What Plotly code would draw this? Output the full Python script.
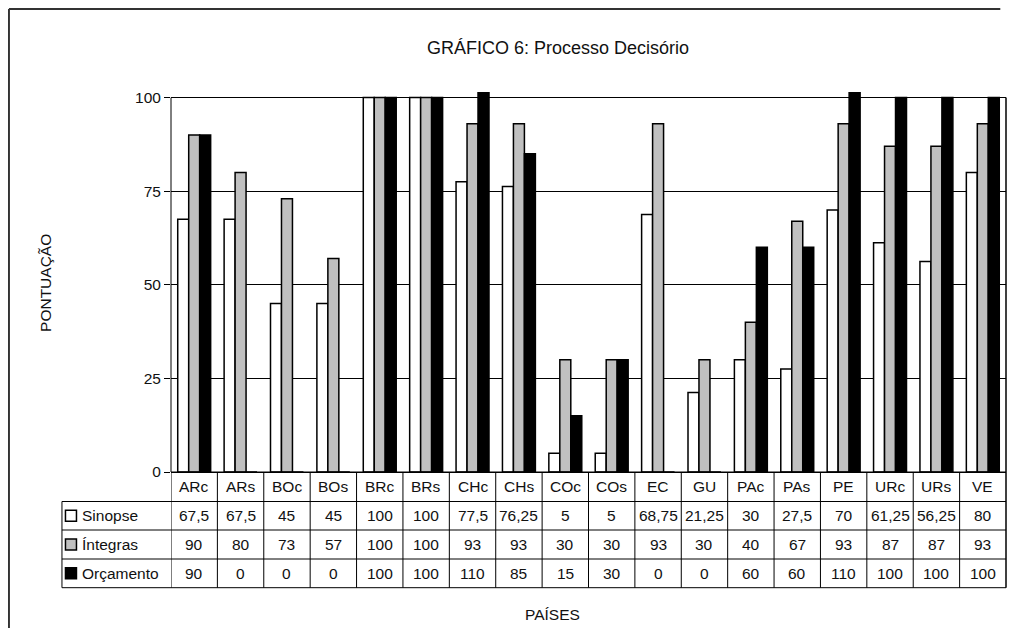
import plotly.graph_objects as go

# ---- data ----
categories = ["ARc", "ARs", "BOc", "BOs", "BRc", "BRs", "CHc", "CHs", "COc", "COs",
              "EC", "GU", "PAc", "PAs", "PE", "URc", "URs", "VE"]
sinopse = [67.5, 67.5, 45, 45, 100, 100, 77.5, 76.25, 5, 5, 68.75, 21.25, 30, 27.5, 70, 61.25, 56.25, 80]
integras = [90, 80, 73, 57, 100, 100, 93, 93, 30, 30, 93, 30, 40, 67, 93, 87, 87, 93]
orcamento = [90, 0, 0, 0, 100, 100, 110, 85, 15, 30, 0, 0, 60, 60, 110, 100, 100, 100]
series_names = ["Sinopse", "Íntegras", "Orçamento"]
y_ticks = [0, 25, 50, 75, 100]

title_text = "GRÁFICO 6: Processo Decisório"
y_title = "PONTUAÇÃO"
x_title = "PAÍSES"

# ---- layout constants (reference pixel positions, page has an 8px body margin) ----
OFF = 8
W, H = 1000, 622
PLOT_L, PLOT_R, PLOT_T, PLOT_B = 171, 1005.7, 92, 472   # in page pixels
ML = PLOT_L - OFF
MT = PLOT_T - OFF
MR = W - (PLOT_R - OFF)
MB = H - (PLOT_B - OFF)
PW, PH = W - ML - MR, H - MT - MB
Y_TOP = 101.5
FONT = "Liberation Sans, Arial, sans-serif"
FS = 15.5
TXT = "#111111"
colors = ["#ffffff", "#c0c0c0", "#000000"]

def px_x(px):
    return (px - PLOT_L) / PW

def px_y(py):
    return (PLOT_B - py) / PH

def fmt(v):
    return ("%g" % v).replace(".", ",")

fig = go.Figure()
for name, vals, col in zip(series_names, [sinopse, integras, orcamento], colors):
    fig.add_trace(go.Bar(
        x=categories, y=vals, name=name,
        marker=dict(color=col, line=dict(color="#000000", width=1.5)),
        showlegend=False, hoverinfo="x+y+name",
    ))

shapes = []
annotations = []

# table geometry (pixel rows)
row_edges = [472, 501.5, 530, 559, 587.7]
table_left = 62
n = len(categories)
y100 = px_y(PLOT_B - 100 * PH / Y_TOP)

# y axis line (0..100)
shapes.append(dict(type="line", xref="paper", yref="paper", x0=0, x1=0, y0=0, y1=y100,
                   line=dict(color="#000", width=1)))
# right edge of plot area and table
shapes.append(dict(type="line", xref="paper", yref="paper", x0=1, x1=1,
                   y0=px_y(row_edges[-1]), y1=y100,
                   line=dict(color="#000", width=1.5)))

for i, py in enumerate(row_edges):
    x0 = px_x(table_left) if i >= 1 else 0
    shapes.append(dict(type="line", xref="paper", yref="paper",
                       x0=x0, x1=1, y0=px_y(py), y1=px_y(py),
                       line=dict(color="#000", width=1)))
for i in range(n):
    shapes.append(dict(type="line", xref="x", yref="paper",
                       x0=i - 0.5, x1=i - 0.5, y0=px_y(row_edges[0]), y1=px_y(row_edges[-1]),
                       line=dict(color="#000", width=1)))
shapes.append(dict(type="line", xref="paper", yref="paper",
                   x0=px_x(table_left), x1=px_x(table_left),
                   y0=px_y(row_edges[1]), y1=px_y(row_edges[-1]),
                   line=dict(color="#000", width=1)))

hdr_y = px_y((row_edges[0] + row_edges[1]) / 2)
for c in categories:
    annotations.append(dict(x=c, y=hdr_y, xref="x", yref="paper", text=c, showarrow=False,
                            font=dict(family=FONT, size=FS, color=TXT),
                            xanchor="center", yanchor="middle"))

for r, (name, vals, col) in enumerate(zip(series_names, [sinopse, integras, orcamento], colors)):
    top, bot = row_edges[r + 1], row_edges[r + 2]
    mid = (top + bot) / 2
    cy = px_y(mid)
    shapes.append(dict(type="rect", xref="paper", yref="paper",
                       x0=px_x(65.5), x1=px_x(76.5),
                       y0=px_y(mid + 5.5), y1=px_y(mid - 5.5),
                       fillcolor=col, line=dict(color="#000", width=1.5)))
    annotations.append(dict(x=px_x(80), y=cy, xref="paper", yref="paper", text=name,
                            showarrow=False, xanchor="left", yanchor="middle",
                            font=dict(family=FONT, size=FS, color=TXT)))
    for c, v in zip(categories, vals):
        annotations.append(dict(x=c, y=cy, xref="x", yref="paper", text=fmt(v),
                                showarrow=False, xanchor="center", yanchor="middle",
                                font=dict(family=FONT, size=FS, color=TXT)))

# outer chart border: left and top edges only
shapes.append(dict(type="line", xref="paper", yref="paper",
                   x0=px_x(OFF + 1), x1=px_x(OFF + 1), y0=px_y(OFF + 1), y1=px_y(OFF + H - 2),
                   line=dict(color="#333", width=2)))
shapes.append(dict(type="line", xref="paper", yref="paper",
                   x0=px_x(OFF + 1), x1=px_x(1000), y0=px_y(OFF + 1), y1=px_y(OFF + 1),
                   line=dict(color="#333", width=2)))

annotations.append(dict(x=px_x(558), y=px_y(48), xref="paper", yref="paper", text=title_text,
                        showarrow=False, xanchor="center", yanchor="middle",
                        font=dict(family=FONT, size=18, color=TXT)))
annotations.append(dict(x=px_x(45), y=px_y(283), xref="paper", yref="paper", text=y_title,
                        showarrow=False, textangle=-90, xanchor="center", yanchor="middle",
                        font=dict(family=FONT, size=FS, color=TXT)))
annotations.append(dict(x=px_x(552), y=px_y(614), xref="paper", yref="paper", text=x_title,
                        showarrow=False, xanchor="center", yanchor="middle",
                        font=dict(family=FONT, size=FS, color=TXT)))

fig.update_layout(
    width=W, height=H,
    margin=dict(l=ML, r=MR, t=MT, b=MB, autoexpand=False),
    paper_bgcolor="white", plot_bgcolor="white",
    barmode="group", bargap=0.29, bargroupgap=0,
    shapes=shapes, annotations=annotations,
    xaxis=dict(showticklabels=False, ticks="", showgrid=False, showline=True,
               linecolor="#000", linewidth=1, zeroline=False,
               range=[-0.5, n - 0.5]),
    yaxis=dict(range=[0, Y_TOP], tickvals=y_ticks, ticktext=[str(t) for t in y_ticks],
               ticks="outside", ticklen=6, tickcolor="#000", tickwidth=1,
               showgrid=True, gridcolor="#000", gridwidth=1, zeroline=False,
               showline=False, tickfont=dict(family=FONT, size=FS, color=TXT)),
    font=dict(family=FONT, size=FS, color=TXT),
)

fig.write_html("out.html", config={"displayModeBar": False})
